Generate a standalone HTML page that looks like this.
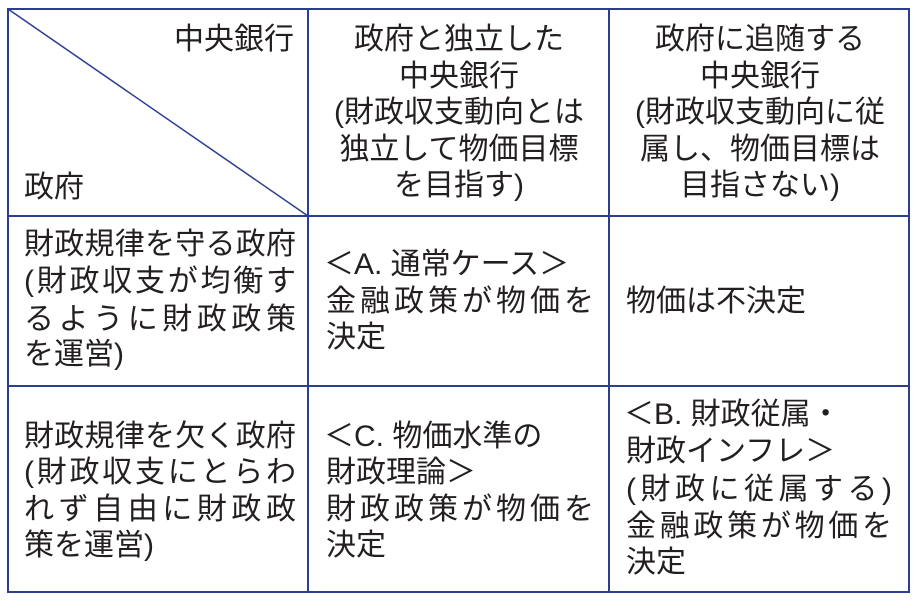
<!DOCTYPE html>
<html><head><meta charset="utf-8"><style>
body{margin:0;width:924px;height:609px;background:#fff;position:relative;overflow:hidden;font-family:"Liberation Sans","Noto Sans CJK JP",sans-serif;color:#231f20}
.l{position:absolute;height:36px;line-height:36px;font-size:30px;white-space:nowrap}
.j{text-align:justify;text-align-last:justify}
.c{text-align:center}
</style></head><body>
<svg width="924" height="609" style="position:absolute;left:0;top:0">
<g stroke="#2b3e8f" stroke-width="2" fill="none">
<rect x="8" y="9" width="901" height="583"/>
<line x1="308" y1="9" x2="308" y2="592"/>
<line x1="609" y1="9" x2="609" y2="592"/>
<line x1="8" y1="216" x2="909" y2="216"/>
<line x1="8" y1="386" x2="909" y2="386"/>
<line x1="8" y1="9" x2="308" y2="216" stroke-width="1.5"/>
</g></svg>
<div class="l" style="left:150px;width:144px;top:22px;text-align:right">中央銀行</div>
<div class="l" style="left:24px;top:170px">政府</div>

<div class="l c" style="left:310px;width:298px;top:22px">政府と独立した</div>
<div class="l c" style="left:310px;width:298px;top:59px">中央銀行</div>
<div class="l c" style="left:310px;width:298px;top:95px">(財政収支動向とは</div>
<div class="l c" style="left:310px;width:298px;top:132px">独立して物価目標</div>
<div class="l c" style="left:310px;width:298px;top:168px">を目指す)</div>

<div class="l c" style="left:611px;width:298px;top:22px">政府に追随する</div>
<div class="l c" style="left:611px;width:298px;top:59px">中央銀行</div>
<div class="l c" style="left:611px;width:298px;top:95px">(財政収支動向に従</div>
<div class="l c" style="left:611px;width:298px;top:132px">属し、物価目標は</div>
<div class="l c" style="left:611px;width:298px;top:168px">目指さない)</div>

<div class="l j" style="left:24px;width:272px;top:227px">財政規律を守る政府</div>
<div class="l j" style="left:24px;width:272px;top:264px">(財政収支が均衡す</div>
<div class="l j" style="left:24px;width:272px;top:302px">るように財政政策</div>
<div class="l" style="left:24px;top:337px">を運営)</div>

<div class="l" style="left:324px;top:247px">＜A. 通常ケース＞</div>
<div class="l j" style="left:326px;width:268px;top:284px">金融政策が物価を</div>
<div class="l" style="left:326px;top:320px">決定</div>

<div class="l" style="left:626px;top:284px">物価は不決定</div>

<div class="l j" style="left:24px;width:272px;top:419px">財政規律を欠く政府</div>
<div class="l j" style="left:24px;width:272px;top:455px">(財政収支にとらわ</div>
<div class="l j" style="left:24px;width:272px;top:492px">れず自由に財政政</div>
<div class="l" style="left:24px;top:528px">策を運営)</div>

<div class="l" style="left:324px;top:419px">＜C. 物価水準の</div>
<div class="l" style="left:326px;top:455px">財政理論＞</div>
<div class="l j" style="left:326px;width:268px;top:492px">財政政策が物価を</div>
<div class="l" style="left:326px;top:528px">決定</div>

<div class="l" style="left:624px;top:397px">＜B. 財政従属・</div>
<div class="l" style="left:626px;top:434px">財政インフレ＞</div>
<div class="l j" style="left:626px;width:266px;top:472px">(財政に従属する)</div>
<div class="l j" style="left:626px;width:266px;top:509px">金融政策が物価を</div>
<div class="l" style="left:626px;top:545px">決定</div>
</body></html>
